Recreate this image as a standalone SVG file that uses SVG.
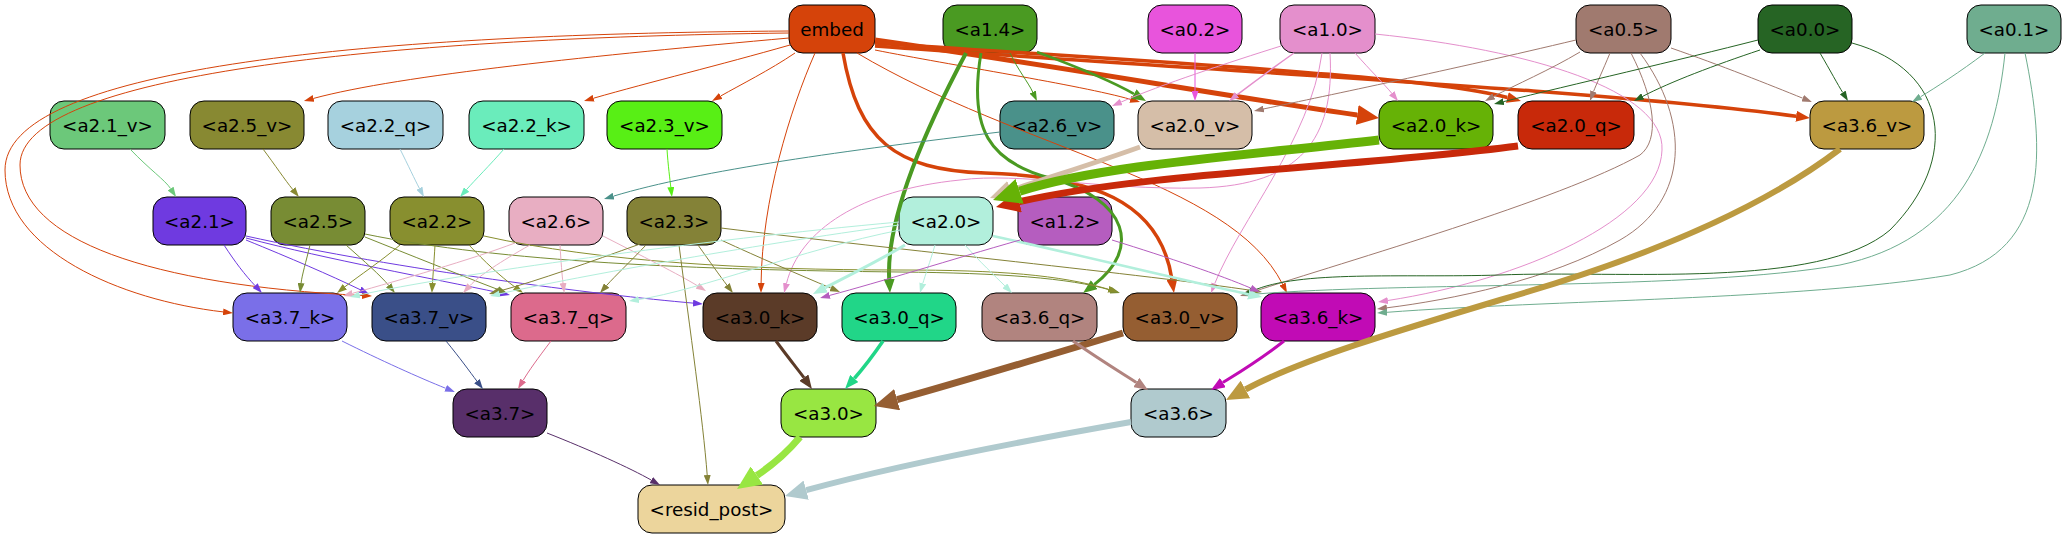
<svg xmlns="http://www.w3.org/2000/svg" width="2066" height="539" viewBox="0 0 2066 539">
<style>
.n rect{stroke:#000;stroke-width:1}
.n text{font-family:"DejaVu Sans",sans-serif;font-size:18.3px;text-anchor:middle;fill:#000}
#edges path{fill:none;stroke-linecap:butt}
</style>
<defs>
<path id="tri" d="M0,0L10,5L0,10z"/>
<marker id="t-embed" viewBox="0 0 10 10" refX="0" refY="5" markerWidth="10" markerHeight="7" markerUnits="userSpaceOnUse" orient="auto" preserveAspectRatio="none"><use href="#tri" fill="#d5430a"/></marker>
<marker id="m-embed" viewBox="0 0 10 10" refX="0" refY="5" markerWidth="14" markerHeight="11" markerUnits="userSpaceOnUse" orient="auto" preserveAspectRatio="none"><use href="#tri" fill="#d5430a"/></marker>
<marker id="k-embed" viewBox="0 0 10 10" refX="0" refY="5" markerWidth="22" markerHeight="20" markerUnits="userSpaceOnUse" orient="auto" preserveAspectRatio="none"><use href="#tri" fill="#d5430a"/></marker>
<marker id="t-a14" viewBox="0 0 10 10" refX="0" refY="5" markerWidth="10" markerHeight="7" markerUnits="userSpaceOnUse" orient="auto" preserveAspectRatio="none"><use href="#tri" fill="#4a9a22"/></marker>
<marker id="m-a14" viewBox="0 0 10 10" refX="0" refY="5" markerWidth="14" markerHeight="11" markerUnits="userSpaceOnUse" orient="auto" preserveAspectRatio="none"><use href="#tri" fill="#4a9a22"/></marker>
<marker id="t-a02" viewBox="0 0 10 10" refX="0" refY="5" markerWidth="10" markerHeight="7" markerUnits="userSpaceOnUse" orient="auto" preserveAspectRatio="none"><use href="#tri" fill="#e854dc"/></marker>
<marker id="t-a10" viewBox="0 0 10 10" refX="0" refY="5" markerWidth="10" markerHeight="7" markerUnits="userSpaceOnUse" orient="auto" preserveAspectRatio="none"><use href="#tri" fill="#e48fcc"/></marker>
<marker id="t-a05" viewBox="0 0 10 10" refX="0" refY="5" markerWidth="10" markerHeight="7" markerUnits="userSpaceOnUse" orient="auto" preserveAspectRatio="none"><use href="#tri" fill="#a07a6f"/></marker>
<marker id="t-a00" viewBox="0 0 10 10" refX="0" refY="5" markerWidth="10" markerHeight="7" markerUnits="userSpaceOnUse" orient="auto" preserveAspectRatio="none"><use href="#tri" fill="#266424"/></marker>
<marker id="t-a01" viewBox="0 0 10 10" refX="0" refY="5" markerWidth="10" markerHeight="7" markerUnits="userSpaceOnUse" orient="auto" preserveAspectRatio="none"><use href="#tri" fill="#6fad8f"/></marker>
<marker id="t-a21v" viewBox="0 0 10 10" refX="0" refY="5" markerWidth="10" markerHeight="7" markerUnits="userSpaceOnUse" orient="auto" preserveAspectRatio="none"><use href="#tri" fill="#6cc87a"/></marker>
<marker id="t-a25v" viewBox="0 0 10 10" refX="0" refY="5" markerWidth="10" markerHeight="7" markerUnits="userSpaceOnUse" orient="auto" preserveAspectRatio="none"><use href="#tri" fill="#888932"/></marker>
<marker id="t-a22q" viewBox="0 0 10 10" refX="0" refY="5" markerWidth="10" markerHeight="7" markerUnits="userSpaceOnUse" orient="auto" preserveAspectRatio="none"><use href="#tri" fill="#a6d1de"/></marker>
<marker id="t-a22k" viewBox="0 0 10 10" refX="0" refY="5" markerWidth="10" markerHeight="7" markerUnits="userSpaceOnUse" orient="auto" preserveAspectRatio="none"><use href="#tri" fill="#6aecbb"/></marker>
<marker id="t-a23v" viewBox="0 0 10 10" refX="0" refY="5" markerWidth="10" markerHeight="7" markerUnits="userSpaceOnUse" orient="auto" preserveAspectRatio="none"><use href="#tri" fill="#58ef15"/></marker>
<marker id="t-a26v" viewBox="0 0 10 10" refX="0" refY="5" markerWidth="10" markerHeight="7" markerUnits="userSpaceOnUse" orient="auto" preserveAspectRatio="none"><use href="#tri" fill="#4a918a"/></marker>
<marker id="k-a20v" viewBox="0 0 10 10" refX="0" refY="5" markerWidth="22" markerHeight="20" markerUnits="userSpaceOnUse" orient="auto" preserveAspectRatio="none"><use href="#tri" fill="#d5bea8"/></marker>
<marker id="z-a20k" viewBox="0 0 10 10" refX="0" refY="5" markerWidth="28" markerHeight="26" markerUnits="userSpaceOnUse" orient="auto" preserveAspectRatio="none"><use href="#tri" fill="#66b206"/></marker>
<marker id="x-a20q" viewBox="0 0 10 10" refX="0" refY="5" markerWidth="24" markerHeight="22" markerUnits="userSpaceOnUse" orient="auto" preserveAspectRatio="none"><use href="#tri" fill="#c8290a"/></marker>
<marker id="k-a36v" viewBox="0 0 10 10" refX="0" refY="5" markerWidth="22" markerHeight="20" markerUnits="userSpaceOnUse" orient="auto" preserveAspectRatio="none"><use href="#tri" fill="#bc9a40"/></marker>
<marker id="t-a21" viewBox="0 0 10 10" refX="0" refY="5" markerWidth="10" markerHeight="7" markerUnits="userSpaceOnUse" orient="auto" preserveAspectRatio="none"><use href="#tri" fill="#6f3ae0"/></marker>
<marker id="t-a25" viewBox="0 0 10 10" refX="0" refY="5" markerWidth="10" markerHeight="7" markerUnits="userSpaceOnUse" orient="auto" preserveAspectRatio="none"><use href="#tri" fill="#788c34"/></marker>
<marker id="t-a22" viewBox="0 0 10 10" refX="0" refY="5" markerWidth="10" markerHeight="7" markerUnits="userSpaceOnUse" orient="auto" preserveAspectRatio="none"><use href="#tri" fill="#888f2f"/></marker>
<marker id="t-a26" viewBox="0 0 10 10" refX="0" refY="5" markerWidth="10" markerHeight="7" markerUnits="userSpaceOnUse" orient="auto" preserveAspectRatio="none"><use href="#tri" fill="#e8aec2"/></marker>
<marker id="t-a23" viewBox="0 0 10 10" refX="0" refY="5" markerWidth="10" markerHeight="7" markerUnits="userSpaceOnUse" orient="auto" preserveAspectRatio="none"><use href="#tri" fill="#848237"/></marker>
<marker id="t-a20" viewBox="0 0 10 10" refX="0" refY="5" markerWidth="10" markerHeight="7" markerUnits="userSpaceOnUse" orient="auto" preserveAspectRatio="none"><use href="#tri" fill="#b2efdc"/></marker>
<marker id="m-a20" viewBox="0 0 10 10" refX="0" refY="5" markerWidth="14" markerHeight="11" markerUnits="userSpaceOnUse" orient="auto" preserveAspectRatio="none"><use href="#tri" fill="#b2efdc"/></marker>
<marker id="t-a12" viewBox="0 0 10 10" refX="0" refY="5" markerWidth="10" markerHeight="7" markerUnits="userSpaceOnUse" orient="auto" preserveAspectRatio="none"><use href="#tri" fill="#b55dbf"/></marker>
<marker id="t-a37k" viewBox="0 0 10 10" refX="0" refY="5" markerWidth="10" markerHeight="7" markerUnits="userSpaceOnUse" orient="auto" preserveAspectRatio="none"><use href="#tri" fill="#7a6fe8"/></marker>
<marker id="t-a37v" viewBox="0 0 10 10" refX="0" refY="5" markerWidth="10" markerHeight="7" markerUnits="userSpaceOnUse" orient="auto" preserveAspectRatio="none"><use href="#tri" fill="#3a4f88"/></marker>
<marker id="t-a37q" viewBox="0 0 10 10" refX="0" refY="5" markerWidth="10" markerHeight="7" markerUnits="userSpaceOnUse" orient="auto" preserveAspectRatio="none"><use href="#tri" fill="#dc6a8c"/></marker>
<marker id="m-a30k" viewBox="0 0 10 10" refX="0" refY="5" markerWidth="14" markerHeight="11" markerUnits="userSpaceOnUse" orient="auto" preserveAspectRatio="none"><use href="#tri" fill="#5b3b28"/></marker>
<marker id="m-a30q" viewBox="0 0 10 10" refX="0" refY="5" markerWidth="14" markerHeight="11" markerUnits="userSpaceOnUse" orient="auto" preserveAspectRatio="none"><use href="#tri" fill="#21d688"/></marker>
<marker id="x-a30v" viewBox="0 0 10 10" refX="0" refY="5" markerWidth="24" markerHeight="22" markerUnits="userSpaceOnUse" orient="auto" preserveAspectRatio="none"><use href="#tri" fill="#955e32"/></marker>
<marker id="m-a36q" viewBox="0 0 10 10" refX="0" refY="5" markerWidth="14" markerHeight="11" markerUnits="userSpaceOnUse" orient="auto" preserveAspectRatio="none"><use href="#tri" fill="#b1847f"/></marker>
<marker id="m-a36k" viewBox="0 0 10 10" refX="0" refY="5" markerWidth="14" markerHeight="11" markerUnits="userSpaceOnUse" orient="auto" preserveAspectRatio="none"><use href="#tri" fill="#c10bb5"/></marker>
<marker id="t-a37" viewBox="0 0 10 10" refX="0" refY="5" markerWidth="10" markerHeight="7" markerUnits="userSpaceOnUse" orient="auto" preserveAspectRatio="none"><use href="#tri" fill="#582f6a"/></marker>
<marker id="x-a30" viewBox="0 0 10 10" refX="0" refY="5" markerWidth="24" markerHeight="22" markerUnits="userSpaceOnUse" orient="auto" preserveAspectRatio="none"><use href="#tri" fill="#98e642"/></marker>
<marker id="k-a36" viewBox="0 0 10 10" refX="0" refY="5" markerWidth="22" markerHeight="20" markerUnits="userSpaceOnUse" orient="auto" preserveAspectRatio="none"><use href="#tri" fill="#b0cace"/></marker>
</defs>
<rect width="2066" height="539" fill="#fff"/>

<g id="node-embed" class="n"><rect x="789" y="5" width="86" height="48" rx="14" fill="#d5430a"/><text x="832" y="35.5">embed</text></g>
<g id="node-a1.4" class="n"><rect x="943" y="5" width="94" height="48" rx="14" fill="#4a9a22"/><text x="990" y="35.5">&lt;a1.4&gt;</text></g>
<g id="node-a0.2" class="n"><rect x="1148" y="5" width="94" height="48" rx="14" fill="#e854dc"/><text x="1195" y="35.5">&lt;a0.2&gt;</text></g>
<g id="node-a1.0" class="n"><rect x="1280" y="5" width="95" height="48" rx="14" fill="#e48fcc"/><text x="1327.5" y="35.5">&lt;a1.0&gt;</text></g>
<g id="node-a0.5" class="n"><rect x="1576" y="5" width="95" height="48" rx="14" fill="#a07a6f"/><text x="1623.5" y="35.5">&lt;a0.5&gt;</text></g>
<g id="node-a0.0" class="n"><rect x="1758" y="5" width="94" height="48" rx="14" fill="#266424"/><text x="1805" y="35.5">&lt;a0.0&gt;</text></g>
<g id="node-a0.1" class="n"><rect x="1967" y="5" width="94" height="48" rx="14" fill="#6fad8f"/><text x="2014" y="35.5">&lt;a0.1&gt;</text></g>

<g id="node-a2.1_v" class="n"><rect x="50" y="101" width="115" height="48" rx="14" fill="#6cc87a"/><text x="107.5" y="131.5">&lt;a2.1_v&gt;</text></g>
<g id="node-a2.5_v" class="n"><rect x="190" y="101" width="114" height="48" rx="14" fill="#888932"/><text x="247" y="131.5">&lt;a2.5_v&gt;</text></g>
<g id="node-a2.2_q" class="n"><rect x="328" y="101" width="115" height="48" rx="14" fill="#a6d1de"/><text x="385.5" y="131.5">&lt;a2.2_q&gt;</text></g>
<g id="node-a2.2_k" class="n"><rect x="469" y="101" width="115" height="48" rx="14" fill="#6aecbb"/><text x="526.5" y="131.5">&lt;a2.2_k&gt;</text></g>
<g id="node-a2.3_v" class="n"><rect x="607" y="101" width="115" height="48" rx="14" fill="#58ef15"/><text x="664.5" y="131.5">&lt;a2.3_v&gt;</text></g>
<g id="node-a2.6_v" class="n"><rect x="1000" y="101" width="114" height="48" rx="14" fill="#4a918a"/><text x="1057" y="131.5">&lt;a2.6_v&gt;</text></g>
<g id="node-a2.0_v" class="n"><rect x="1138" y="101" width="114" height="48" rx="14" fill="#d5bea8"/><text x="1195" y="131.5">&lt;a2.0_v&gt;</text></g>
<g id="node-a2.0_k" class="n"><rect x="1379" y="101" width="114" height="48" rx="14" fill="#66b206"/><text x="1436" y="131.5">&lt;a2.0_k&gt;</text></g>
<g id="node-a2.0_q" class="n"><rect x="1518" y="101" width="116" height="48" rx="14" fill="#c8290a"/><text x="1576" y="131.5">&lt;a2.0_q&gt;</text></g>
<g id="node-a3.6_v" class="n"><rect x="1810" y="101" width="114" height="48" rx="14" fill="#bc9a40"/><text x="1867" y="131.5">&lt;a3.6_v&gt;</text></g>

<g id="node-a2.1" class="n"><rect x="153" y="197" width="93" height="48" rx="14" fill="#6f3ae0"/><text x="199.5" y="227.5">&lt;a2.1&gt;</text></g>
<g id="node-a2.5" class="n"><rect x="271" y="197" width="94" height="48" rx="14" fill="#788c34"/><text x="318" y="227.5">&lt;a2.5&gt;</text></g>
<g id="node-a2.2" class="n"><rect x="390" y="197" width="94" height="48" rx="14" fill="#888f2f"/><text x="437" y="227.5">&lt;a2.2&gt;</text></g>
<g id="node-a2.6" class="n"><rect x="509" y="197" width="94" height="48" rx="14" fill="#e8aec2"/><text x="556" y="227.5">&lt;a2.6&gt;</text></g>
<g id="node-a2.3" class="n"><rect x="627" y="197" width="94" height="48" rx="14" fill="#848237"/><text x="674" y="227.5">&lt;a2.3&gt;</text></g>
<g id="node-a2.0" class="n"><rect x="899" y="197" width="94" height="48" rx="14" fill="#b2efdc"/><text x="946" y="227.5">&lt;a2.0&gt;</text></g>
<g id="node-a1.2" class="n"><rect x="1018" y="197" width="94" height="48" rx="14" fill="#b55dbf"/><text x="1065" y="227.5">&lt;a1.2&gt;</text></g>

<g id="node-a3.7_k" class="n"><rect x="233" y="293" width="114" height="48" rx="14" fill="#7a6fe8"/><text x="290" y="323.5">&lt;a3.7_k&gt;</text></g>
<g id="node-a3.7_v" class="n"><rect x="372" y="293" width="114" height="48" rx="14" fill="#3a4f88"/><text x="429" y="323.5">&lt;a3.7_v&gt;</text></g>
<g id="node-a3.7_q" class="n"><rect x="511" y="293" width="115" height="48" rx="14" fill="#dc6a8c"/><text x="568.5" y="323.5">&lt;a3.7_q&gt;</text></g>
<g id="node-a3.0_k" class="n"><rect x="703" y="293" width="114" height="48" rx="14" fill="#5b3b28"/><text x="760" y="323.5">&lt;a3.0_k&gt;</text></g>
<g id="node-a3.0_q" class="n"><rect x="842" y="293" width="114" height="48" rx="14" fill="#21d688"/><text x="899" y="323.5">&lt;a3.0_q&gt;</text></g>
<g id="node-a3.6_q" class="n"><rect x="982" y="293" width="115" height="48" rx="14" fill="#b1847f"/><text x="1039.5" y="323.5">&lt;a3.6_q&gt;</text></g>
<g id="node-a3.0_v" class="n"><rect x="1123" y="293" width="114" height="48" rx="14" fill="#955e32"/><text x="1180" y="323.5">&lt;a3.0_v&gt;</text></g>
<g id="node-a3.6_k" class="n"><rect x="1261" y="293" width="114" height="48" rx="14" fill="#c10bb5"/><text x="1318" y="323.5">&lt;a3.6_k&gt;</text></g>

<g id="node-a3.7" class="n"><rect x="453" y="389" width="94" height="48" rx="14" fill="#582f6a"/><text x="500" y="419.5">&lt;a3.7&gt;</text></g>
<g id="node-a3.0" class="n"><rect x="781" y="389" width="95" height="48" rx="14" fill="#98e642"/><text x="828.5" y="419.5">&lt;a3.0&gt;</text></g>
<g id="node-a3.6" class="n"><rect x="1131" y="389" width="95" height="48" rx="14" fill="#b0cace"/><text x="1178.5" y="419.5">&lt;a3.6&gt;</text></g>

<g id="node-resid_post" class="n"><rect x="638" y="485" width="147" height="48" rx="14" fill="#ecd59c"/><text x="711.5" y="515.5">&lt;resid_post&gt;</text></g>

<g id="edges">
<!-- embed -->
<path d="M789,31 C350,34 5,70 5,170 C5,250 120,300 223.1,311.9" stroke="#d5430a" stroke-width="1" marker-end="url(#t-embed)"/>
<path d="M789,33 C380,38 20,75 20,165 C20,240 150,285 362,295.5" stroke="#d5430a" stroke-width="1" marker-end="url(#t-embed)"/>
<path d="M789,38 C600,55 400,75 313.6,98.4" stroke="#d5430a" stroke-width="1" marker-end="url(#t-embed)"/>
<path d="M790,45 C720,65 650,82 593.6,98.2" stroke="#d5430a" stroke-width="1" marker-end="url(#t-embed)"/>
<path d="M795,53 C770,70 740,85 720.7,96" stroke="#d5430a" stroke-width="1" marker-end="url(#t-embed)"/>
<path d="M815,53 C790,110 762,200 761.1,283" stroke="#d5430a" stroke-width="1" marker-end="url(#t-embed)"/>
<path d="M857,53 C1020,150 1230,180 1282.5,284.1" stroke="#d5430a" stroke-width="1" marker-end="url(#t-embed)"/>
<path d="M875,50 C950,65 1080,85 1130.4,99.3" stroke="#d5430a" stroke-width="1" marker-end="url(#t-embed)"/>
<path d="M843,53 C858,140 895,170 985,173 C1090,176 1160,200 1171.9,279.2" stroke="#d5430a" stroke-width="3.5" marker-end="url(#m-embed)"/>
<path d="M875,43 C1150,62 1420,75 1507.4,97.5" stroke="#d5430a" stroke-width="3.5" marker-end="url(#m-embed)"/>
<path d="M875,46 C1200,70 1600,90 1796.1,116.2" stroke="#d5430a" stroke-width="3.5" marker-end="url(#m-embed)"/>
<path d="M875,40 C1050,65 1250,100 1357.2,115" stroke="#d5430a" stroke-width="5" marker-end="url(#k-embed)"/>
<!-- a1.4 -->
<path d="M966,53 C925,130 886,220 889.2,279" stroke="#4a9a22" stroke-width="4" marker-end="url(#m-a14)"/>
<path d="M981,53 C968,130 990,162 1050,178 C1130,200 1140,250 1094.2,284.6" stroke="#4a9a22" stroke-width="3" marker-end="url(#m-a14)"/>
<path d="M1010,53 C1018,70 1028,82 1032.7,92" stroke="#4a9a22" stroke-width="1" marker-end="url(#t-a14)"/>
<path d="M1037,52 C1080,68 1110,80 1133.9,93.9" stroke="#4a9a22" stroke-width="2.5" marker-end="url(#m-a14)"/>
<!-- a0.2 -->
<path d="M1195,53 L1195,91" stroke="#e854dc" stroke-width="1" marker-end="url(#t-a02)"/>
<!-- a1.0 -->
<path d="M1281,46 C1230,62 1160,85 1121.2,102" stroke="#e48fcc" stroke-width="1" marker-end="url(#t-a10)"/>
<path d="M1294,53 C1270,70 1250,85 1237,94.9" stroke="#e48fcc" stroke-width="1.5" marker-end="url(#t-a10)"/>
<path d="M1355,53 C1370,70 1385,85 1391.7,93.2" stroke="#e48fcc" stroke-width="1" marker-end="url(#t-a10)"/>
<path d="M1330,53 C1335,140 1300,185 1200,188 C1100,190 1020,172 960,180 C860,190 800,230 786.5,283.3" stroke="#e48fcc" stroke-width="1" marker-end="url(#t-a10)"/>
<path d="M1322,53 C1310,140 1240,220 1214.7,283.7" stroke="#e48fcc" stroke-width="1" marker-end="url(#t-a10)"/>
<path d="M1375,34 C1530,50 1665,90 1662,150 C1660,220 1520,280 1387.9,300.5" stroke="#e48fcc" stroke-width="1" marker-end="url(#t-a10)"/>
<!-- a0.5 -->
<path d="M1576,40 C1450,70 1330,95 1263.8,108.9" stroke="#a07a6f" stroke-width="1" marker-end="url(#t-a05)"/>
<path d="M1580,52 C1550,70 1515,85 1493.8,96.3" stroke="#a07a6f" stroke-width="1" marker-end="url(#t-a05)"/>
<path d="M1610,53 C1603,70 1596,85 1593.5,91.6" stroke="#a07a6f" stroke-width="1" marker-end="url(#t-a05)"/>
<path d="M1671,48 C1720,65 1770,85 1802.7,98.2" stroke="#a07a6f" stroke-width="1" marker-end="url(#t-a05)"/>
<path d="M1631,53 C1655,100 1660,140 1640,155 C1560,200 1350,260 1249.5,292.9" stroke="#a07a6f" stroke-width="1" marker-end="url(#t-a05)"/>
<path d="M1640,53 C1690,120 1690,200 1620,240 C1550,280 1450,300 1386.9,307.8" stroke="#a07a6f" stroke-width="1" marker-end="url(#t-a05)"/>
<!-- a0.0 -->
<path d="M1758,40 C1680,60 1570,85 1503.7,101.6" stroke="#266424" stroke-width="1" marker-end="url(#t-a00)"/>
<path d="M1760,50 C1715,65 1670,82 1642.8,96.3" stroke="#266424" stroke-width="1" marker-end="url(#t-a00)"/>
<path d="M1820,53 C1830,70 1838,85 1842.7,92.5" stroke="#266424" stroke-width="1" marker-end="url(#t-a00)"/>
<path d="M1852,43 C1950,70 1960,160 1890,230 C1820,290 1620,270 1500,275 C1400,278 1300,270 1252.2,291" stroke="#266424" stroke-width="1" marker-end="url(#t-a00)"/>
<!-- a0.1 -->
<path d="M1985,53 C1960,72 1935,88 1920.5,96.8" stroke="#6fad8f" stroke-width="1" marker-end="url(#t-a01)"/>
<path d="M2005,53 C1995,150 1960,240 1840,265 C1700,290 1400,282 1254,294.2" stroke="#6fad8f" stroke-width="1" marker-end="url(#t-a01)"/>
<path d="M2025,53 C2045,150 2050,250 1950,275 C1800,300 1550,300 1387,312.3" stroke="#6fad8f" stroke-width="1" marker-end="url(#t-a01)"/>
<!-- row1 -> row2 -->
<path d="M130,149 C150,170 165,180 170.6,188.6" stroke="#6cc87a" stroke-width="1" marker-end="url(#t-a21v)"/>
<path d="M263,149 C275,165 285,180 292.6,189.3" stroke="#888932" stroke-width="1" marker-end="url(#t-a25v)"/>
<path d="M400,149 C408,165 415,180 419.3,188.2" stroke="#a6d1de" stroke-width="1" marker-end="url(#t-a22q)"/>
<path d="M504,149 C490,165 475,180 466.6,189.5" stroke="#6aecbb" stroke-width="1" marker-end="url(#t-a22k)"/>
<path d="M667,149 C668,165 670,180 670.8,187.1" stroke="#58ef15" stroke-width="1" marker-end="url(#t-a23v)"/>
<path d="M1000,132 C850,150 700,170 613.6,196.1" stroke="#4a918a" stroke-width="1" marker-end="url(#t-a26v)"/>
<path d="M1140,147 C1090,165 1040,180 1010.7,190.5" stroke="#d5bea8" stroke-width="5" marker-end="url(#k-a20v)"/>
<path d="M1518,146 C1350,168 1150,172 1019.4,201.7" stroke="#c8290a" stroke-width="7" marker-end="url(#x-a20q)"/>
<path d="M1379,140 C1250,155 1100,165 1019.6,191.3" stroke="#66b206" stroke-width="9" marker-end="url(#z-a20k)"/>
<!-- a2.1 -->
<path d="M224,245 C235,262 245,275 255.1,285.7" stroke="#6f3ae0" stroke-width="1" marker-end="url(#t-a21)"/>
<path d="M246,240 C290,258 330,275 360,289.6" stroke="#6f3ae0" stroke-width="1" marker-end="url(#t-a21)"/>
<path d="M246,238 C330,260 430,278 500.2,292.9" stroke="#6f3ae0" stroke-width="1" marker-end="url(#t-a21)"/>
<path d="M246,236 C400,270 600,295 693,303.1" stroke="#6f3ae0" stroke-width="1" marker-end="url(#t-a21)"/>
<!-- a2.5 -->
<path d="M310,245 C306,262 302,275 301.1,283.1" stroke="#788c34" stroke-width="1" marker-end="url(#t-a25)"/>
<path d="M346,245 C365,262 380,275 388.6,285.3" stroke="#788c34" stroke-width="1" marker-end="url(#t-a25)"/>
<path d="M365,237 C410,255 460,275 497.7,289.4" stroke="#788c34" stroke-width="1" marker-end="url(#t-a25)"/>
<path d="M365,234 C500,262 700,270 900,272 C1000,273 1070,278 1110.4,290.1" stroke="#788c34" stroke-width="1" marker-end="url(#t-a25)"/>
<!-- a2.2 -->
<path d="M400,245 C380,262 360,275 344.9,286.8" stroke="#888f2f" stroke-width="1" marker-end="url(#t-a22)"/>
<path d="M435,245 C434,262 433,275 432.5,283" stroke="#888f2f" stroke-width="1" marker-end="url(#t-a22)"/>
<path d="M469,245 C485,262 500,276 515,287.1" stroke="#888f2f" stroke-width="1" marker-end="url(#t-a22)"/>
<path d="M484,236 C600,262 750,270 900,270 C1000,270 1060,275 1108.4,289.2" stroke="#888f2f" stroke-width="1" marker-end="url(#t-a22)"/>
<!-- a2.6 -->
<path d="M515,243 C470,260 400,280 352.6,293.3" stroke="#e8aec2" stroke-width="1" marker-end="url(#t-a26)"/>
<path d="M530,245 C500,262 480,275 469.9,285.7" stroke="#e8aec2" stroke-width="1" marker-end="url(#t-a26)"/>
<path d="M560,245 C561,262 562,275 563,283" stroke="#e8aec2" stroke-width="1" marker-end="url(#t-a26)"/>
<path d="M603,236 C640,255 680,275 697.5,285.8" stroke="#e8aec2" stroke-width="1" marker-end="url(#t-a26)"/>
<!-- a2.3 -->
<path d="M640,244 C590,262 540,280 498.6,291.3" stroke="#848237" stroke-width="1" marker-end="url(#t-a23)"/>
<path d="M646,245 C630,262 615,276 606.6,285.5" stroke="#848237" stroke-width="1" marker-end="url(#t-a23)"/>
<path d="M679,245 C690,330 703,420 707.2,475" stroke="#848237" stroke-width="1" marker-end="url(#t-a23)"/>
<path d="M698,245 C710,262 720,276 726.9,285.1" stroke="#848237" stroke-width="1" marker-end="url(#t-a23)"/>
<path d="M721,240 C760,258 800,275 830.8,288.1" stroke="#848237" stroke-width="1" marker-end="url(#t-a23)"/>
<path d="M721,228 C900,250 1150,275 1252.1,290.5" stroke="#848237" stroke-width="1" marker-end="url(#t-a23)"/>
<!-- a2.0 -->
<path d="M899,222 C700,240 450,275 359.8,294.9" stroke="#b2efdc" stroke-width="1" marker-end="url(#t-a20)"/>
<path d="M899,225 C750,245 560,280 499.8,293.8" stroke="#b2efdc" stroke-width="1" marker-end="url(#t-a20)"/>
<path d="M900,230 C800,250 700,290 638.9,299.5" stroke="#b2efdc" stroke-width="1" marker-end="url(#t-a20)"/>
<path d="M905,245 C880,260 850,275 825.4,287.6" stroke="#b2efdc" stroke-width="3" marker-end="url(#m-a20)"/>
<path d="M935,245 C930,262 925,276 922.8,283.4" stroke="#b2efdc" stroke-width="1" marker-end="url(#t-a20)"/>
<path d="M965,245 C980,262 995,276 1004.9,285.9" stroke="#b2efdc" stroke-width="1" marker-end="url(#t-a20)"/>
<path d="M993,236 C1080,255 1180,280 1248.3,294.2" stroke="#b2efdc" stroke-width="2.5" marker-end="url(#m-a20)"/>
<!-- a1.2 -->
<path d="M1020,240 C950,260 880,282 829.7,295.4" stroke="#b55dbf" stroke-width="1" marker-end="url(#t-a12)"/>
<path d="M1112,240 C1170,258 1220,275 1250.8,288.1" stroke="#b55dbf" stroke-width="1" marker-end="url(#t-a12)"/>
<!-- row3 -> row4 -->
<path d="M342,341 C380,360 420,378 445.7,388.3" stroke="#7a6fe8" stroke-width="1" marker-end="url(#t-a37k)"/>
<path d="M446,341 C460,358 470,372 476.9,381.1" stroke="#3a4f88" stroke-width="1" marker-end="url(#t-a37v)"/>
<path d="M551,341 C538,358 528,372 523.1,380.4" stroke="#dc6a8c" stroke-width="1" marker-end="url(#t-a37q)"/>
<path d="M776,341 C790,360 800,372 803.9,377.6" stroke="#5b3b28" stroke-width="3" marker-end="url(#m-a30k)"/>
<path d="M883,341 C870,360 860,372 854.3,378.5" stroke="#21d688" stroke-width="3.5" marker-end="url(#m-a30q)"/>
<path d="M1123,333 C1050,355 950,385 897.1,399.6" stroke="#955e32" stroke-width="7" marker-end="url(#x-a30v)"/>
<path d="M1073,341 C1100,360 1125,375 1136.3,382.4" stroke="#b1847f" stroke-width="3" marker-end="url(#m-a36q)"/>
<path d="M1284,341 C1260,360 1235,375 1222.9,382.6" stroke="#c10bb5" stroke-width="3" marker-end="url(#m-a36k)"/>
<path d="M1840,149 C1760,210 1640,260 1500,300 C1400,330 1300,360 1245.4,389.5" stroke="#bc9a40" stroke-width="6" marker-end="url(#k-a36v)"/>
<!-- row4 -> resid_post -->
<path d="M547,433 C590,450 630,468 651.3,480.1" stroke="#582f6a" stroke-width="1" marker-end="url(#t-a37)"/>
<path d="M800,437 C785,455 765,470 756.9,475.5" stroke="#98e642" stroke-width="7" marker-end="url(#x-a30)"/>
<path d="M1131,422 C1000,445 880,470 806.2,490.2" stroke="#b0cace" stroke-width="6" marker-end="url(#k-a36)"/>
</g>
</svg>
